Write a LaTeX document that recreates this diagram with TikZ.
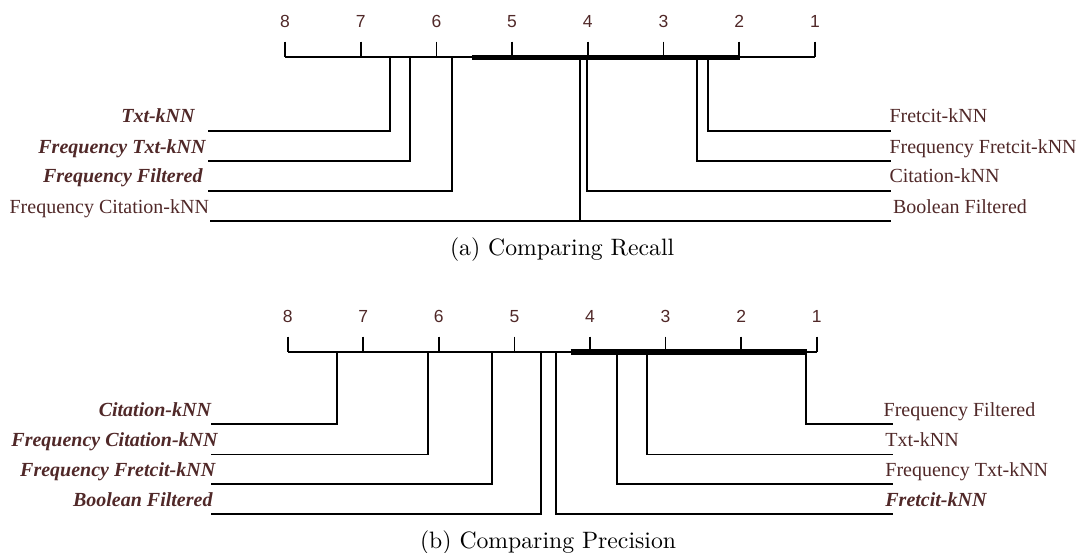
\documentclass[tikz,border=0pt]{standalone}
\usepackage{fontspec}
\newfontfamily\tnr{Liberation Serif}
\newfontfamily\arl{Liberation Sans}
\newfontfamily\lmcap{lmroman10-regular.otf}
\definecolor{lbl}{RGB}{80,40,40}
\tikzset{
  lab/.style={inner sep=0pt, outer sep=0pt, text=lbl, font=\tnr\fontsize{20}{24}\selectfont},
  labb/.style={inner sep=0pt, outer sep=0pt, text=lbl, font=\tnr\bfseries\itshape\fontsize{20}{24}\selectfont},
  num/.style={inner sep=0pt, outer sep=0pt, text=lbl, font=\arl\fontsize{17.5}{20}\selectfont, anchor=base},
  captxt/.style={inner sep=0pt, outer sep=0pt, anchor=base west, font=\lmcap\fontsize{23.7}{28}\selectfont},
  ln/.style={line width=1.8pt, draw=black},
  bar/.style={line width=5.5pt, draw=black}
}
\begin{document}
\begin{tikzpicture}[x=1pt,y=-1pt]
\useasboundingbox (0,0) rectangle (1077,552);
% ---------- (a) Recall ----------
\coordinate (aL) at (285,57.3);
\coordinate (aR) at (814.9,57.3);
\draw[ln] (aL) -- (aR);
\foreach \r in {1,...,8}{
  \pgfmathsetmacro\xx{285+(8-\r)*75.7}
  \coordinate (at\r) at (\xx,57.3);
  \coordinate (att\r) at (\xx,41.7);
  \draw[ln] (att\r) -- (at\r);
  \node[num] (an\r) at (\xx,27.3) {\r};
}
\coordinate (ab1) at (471.8,57.3);
\coordinate (ab2) at (740,57.3);
\draw[bar] (ab1) -- (ab2);
% left methods
\coordinate (a1) at (389.8,57.3); \coordinate (a1e) at (208,130.7);
\coordinate (a2) at (409.8,57.3); \coordinate (a2e) at (208,161);
\coordinate (a3) at (451.8,57.3); \coordinate (a3e) at (208,190.7);
\coordinate (a4) at (580.3,57.3); \coordinate (a4e) at (210,221.3);
\draw[ln] (a1) |- (a1e);
\draw[ln] (a2) |- (a2e);
\draw[ln] (a3) |- (a3e);
\draw[ln] (a4) |- (a4e);
\node[labb, anchor=base east] (la1) at (194.6,122.7) {Txt-kNN};
\node[labb, anchor=base east] (la2) at (205.6,153) {Frequency Txt-kNN};
\node[labb, anchor=base east] (la3) at (202.5,182.7) {Frequency Filtered};
\node[lab, anchor=base east] (la4) at (209,213.3) {Frequency Citation-kNN};
% right methods
\coordinate (a5) at (708.3,57.3); \coordinate (a5e) at (891,130.7);
\coordinate (a6) at (697,57.3); \coordinate (a6e) at (891,161);
\coordinate (a7) at (587.3,57.3); \coordinate (a7e) at (891,190.7);
\coordinate (a8) at (580.3,57.3); \coordinate (a8e) at (891,221.3);
\draw[ln] (a5) |- (a5e);
\draw[ln] (a6) |- (a6e);
\draw[ln] (a7) |- (a7e);
\draw[ln] (a8) |- (a8e);
\node[lab, anchor=base west] (la5) at (889.5,122.7) {Fretcit-kNN};
\node[lab, anchor=base west] (la6) at (889.5,153) {Frequency Fretcit-kNN};
\node[lab, anchor=base west] (la7) at (889.5,182.7) {Citation-kNN};
\node[lab, anchor=base west] (la8) at (893,213.3) {Boolean Filtered};
\node[captxt] (capa) at (450,255) {(a) Comparing Recall};
% ---------- (b) Precision ----------
\coordinate (bL) at (287.7,352);
\coordinate (bR) at (816.7,352);
\draw[ln] (bL) -- (bR);
\foreach \r in {1,...,8}{
  \pgfmathsetmacro\xx{287.7+(8-\r)*75.57}
  \coordinate (bt\r) at (\xx,352);
  \coordinate (btt\r) at (\xx,336.7);
  \draw[ln] (btt\r) -- (bt\r);
  \node[num] (bn\r) at (\xx,322.5) {\r};
}
\coordinate (bb1) at (570.5,352);
\coordinate (bb2) at (806.7,352);
\draw[bar] (bb1) -- (bb2);
% left methods
\coordinate (b1) at (336.7,352); \coordinate (b1e) at (211,424.3);
\coordinate (b2) at (428,352); \coordinate (b2e) at (211,454.5);
\coordinate (b3) at (491.7,352); \coordinate (b3e) at (211,484.3);
\coordinate (b4) at (540.7,352); \coordinate (b4e) at (211,514.3);
\draw[ln] (b1) |- (b1e);
\draw[ln] (b2) |- (b2e);
\draw[ln] (b3) |- (b3e);
\draw[ln] (b4) |- (b4e);
\node[labb, anchor=base east] (lb1) at (211,416.3) {Citation-kNN};
\node[labb, anchor=base east] (lb2) at (217.6,446.5) {Frequency Citation-kNN};
\node[labb, anchor=base east] (lb3) at (215.2,476.3) {Frequency Fretcit-kNN};
\node[labb, anchor=base east] (lb4) at (212.5,506.3) {Boolean Filtered};
% right methods
\coordinate (b5) at (805.7,352); \coordinate (b5e) at (892.7,424.3);
\coordinate (b6) at (646.7,352); \coordinate (b6e) at (892.7,454.5);
\coordinate (b7) at (616.7,352); \coordinate (b7e) at (892.7,484.3);
\coordinate (b8) at (556,352); \coordinate (b8e) at (892.7,514.3);
\draw[ln] (b5) |- (b5e);
\draw[ln] (b6) |- (b6e);
\draw[ln] (b7) |- (b7e);
\draw[ln] (b8) |- (b8e);
\node[lab, anchor=base west] (lb5) at (883.7,416.3) {Frequency Filtered};
\node[lab, anchor=base west] (lb6) at (885.4,446.5) {Txt-kNN};
\node[lab, anchor=base west] (lb7) at (885.4,476.3) {Frequency Txt-kNN};
\node[labb, anchor=base west] (lb8) at (885.4,506.3) {Fretcit-kNN};
\node[captxt] (capb) at (420,548.5) {(b) Comparing Precision};
\end{tikzpicture}
\end{document}
